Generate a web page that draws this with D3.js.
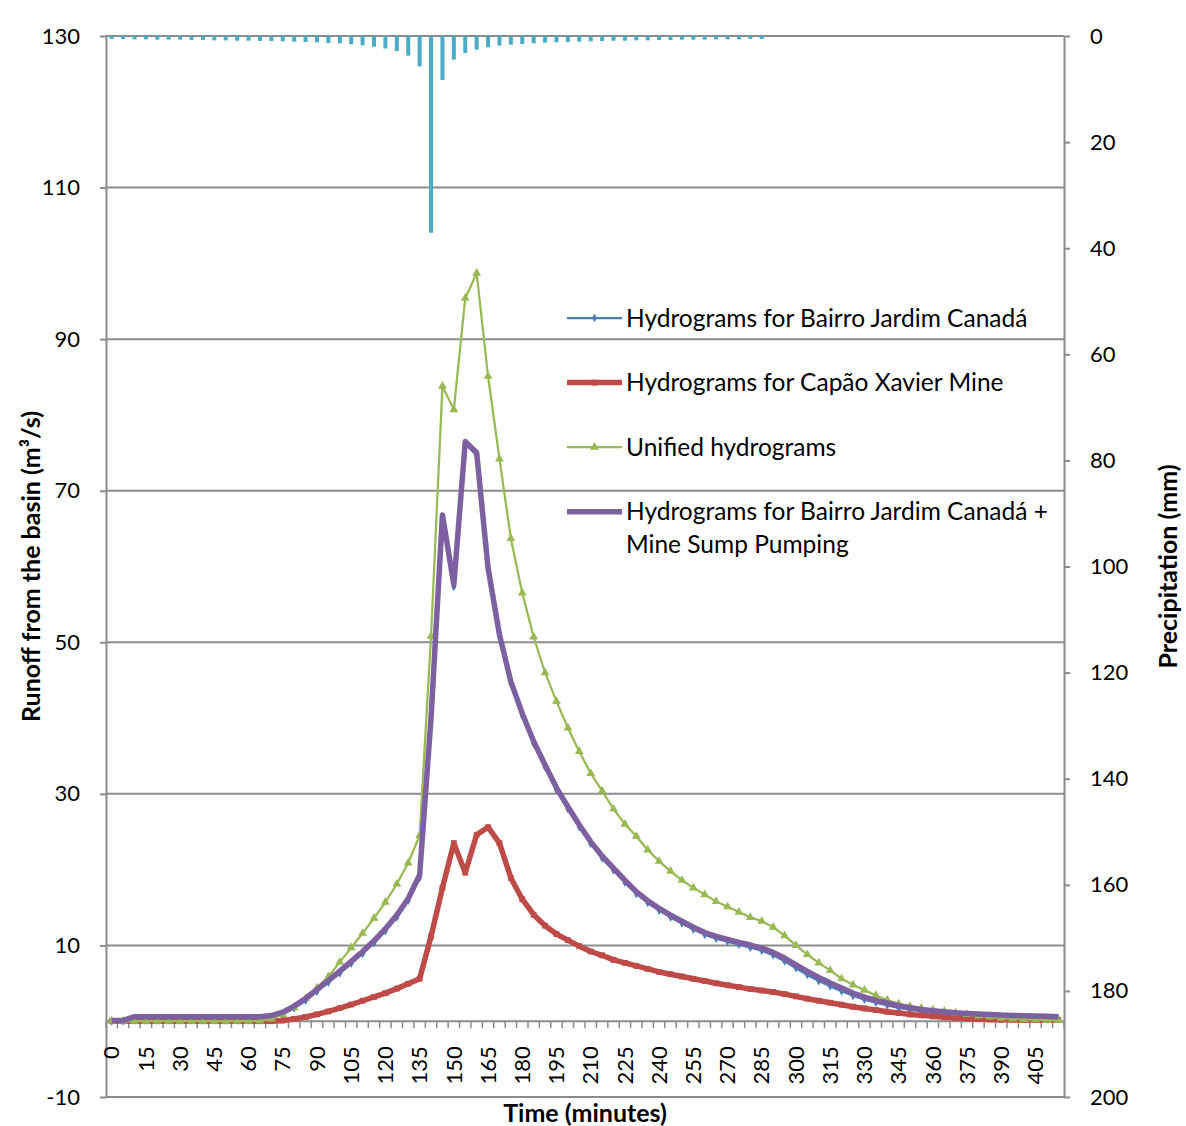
<!doctype html>
<html lang="en">
<head>
<meta charset="utf-8">
<title>Hydrograms - Bairro Jardim Canadá and Capão Xavier Mine</title>
<script src="https://cdn.jsdelivr.net/npm/d3@7"></script>
<style>
  body { margin: 0; background: #fff; }
  text { font-family: Lato, "Open Sans", sans-serif; fill: #000; }
</style>
</head>
<body>
<script>
// time categories (minutes)
var minutes = [0,5,10,15,20,25,30,35,40,45,50,55,60,65,70,75,80,85,90,95,
               100,105,110,115,120,125,130,135,140,145,150,155,160,165,170,175,180,185,190,195,
               200,205,210,215,220,225,230,235,240,245,250,255,260,265,270,275,280,285,290,295,
               300,305,310,315,320,325,330,335,340,345,350,355,360,365,370,375,380,385,390,395,
               400,405,410,415];

// precipitation per 5 min (mm), 0 to 285 min
var precipitation = [0.57,0.57,0.63,0.63,0.69,0.69,0.69,0.75,0.75,0.82,0.82,0.88,0.88,0.94,0.94,1.0,
                     1.07,1.13,1.19,1.32,1.38,1.57,1.76,2.01,2.36,2.83,3.71,5.72,37.1,8.29,4.46,3.2,
                     2.58,2.14,1.82,1.63,1.51,1.38,1.26,1.19,1.13,1.07,1.0,0.94,0.88,0.88,0.82,0.82,
                     0.75,0.75,0.69,0.69,0.69,0.63,0.63,0.63,0.57,0.57];

// runoff (m3/s)
var bairro = [0,0,0.35,0.35,0.35,0.35,0.35,0.35,0.35,0.35,0.35,0.35,0.35,0.35,0.5,0.9,1.7,2.7,3.9,5.1,
              6.3,7.6,8.9,10.3,11.9,13.7,15.9,18.9,39.7,66.5,57.3,76.2,74.7,59.5,50.7,44.5,40.3,36.6,33.5,30.5,
              28.0,25.6,23.4,21.5,19.9,18.3,16.8,15.6,14.6,13.7,12.9,12.1,11.4,10.9,10.5,10.1,9.7,9.3,8.7,7.9,
              7.0,6.1,5.3,4.6,3.95,3.35,2.85,2.45,2.1,1.75,1.5,1.3,1.1,0.95,0.85,0.75,0.65,0.6,0.5,0.45,
              0.42,0.38,0.34,0.3];

var capao = [0,0,0,0,0,0,0,0,0,0,0,0,0,0,0,0.1,0.3,0.55,0.9,1.3,
             1.74,2.2,2.7,3.2,3.7,4.3,4.95,5.6,11.2,17.6,23.5,19.6,24.6,25.6,23.5,18.9,16.1,14.05,12.6,11.5,
             10.7,9.9,9.2,8.7,8.1,7.7,7.3,6.9,6.5,6.2,5.9,5.6,5.3,5.0,4.75,4.5,4.25,4.05,3.85,3.58,
             3.28,2.97,2.7,2.44,2.18,1.91,1.69,1.47,1.25,1.08,0.9,0.77,0.64,0.51,0.42,0.33,0.29,0.24,0.2,0.2,
             0.15,0.15,0.15,0.15];

var unified = [0,0,0,0,0,0,0,0,0,0,0,0,0,0.05,0.3,0.9,1.8,3.0,4.4,5.9,
               7.8,9.7,11.6,13.6,15.7,18.1,20.9,24.5,50.8,83.8,80.7,95.4,98.7,85.1,74.2,63.7,56.5,50.7,46.0,42.2,
               38.7,35.6,32.7,30.4,28.0,26.0,24.4,22.6,21.1,19.8,18.6,17.6,16.7,15.8,15.1,14.4,13.7,13.2,12.4,11.3,
               10.0,8.8,7.7,6.7,5.6,4.8,4.1,3.4,2.8,2.3,1.96,1.74,1.5,1.3,1.1,0.9,0.7,0.55,0.4,0.3,
               0.25,0.2,0.15,0.1];

var bairroSump = [0.1,0.1,0.6,0.6,0.6,0.6,0.6,0.6,0.6,0.6,0.6,0.6,0.6,0.6,0.75,1.2,2.0,3.0,4.2,5.4,
                  6.6,7.9,9.2,10.6,12.2,14.0,16.2,19.3,40.0,66.8,57.6,76.5,75.0,59.8,51.0,44.8,40.6,36.9,33.8,30.8,
                  28.3,25.9,23.7,21.8,20.2,18.6,17.1,15.9,14.9,14.0,13.2,12.4,11.7,11.2,10.8,10.4,10.05,9.65,9.08,8.33,
                  7.45,6.57,5.78,5.04,4.38,3.72,3.19,2.75,2.4,2.04,1.78,1.56,1.39,1.25,1.12,1.03,0.95,0.9,0.81,0.77,
                  0.73,0.68,0.64,0.59];

var leftTicks = [-10,10,30,50,70,90,110,130];
var rightTicks = [0,20,40,60,80,100,120,140,160,180,200];

var seriesNames = ["Hydrograms for Bairro Jardim Canadá",
                   "Hydrograms for Capão Xavier Mine",
                   "Unified hydrograms",
                   "Hydrograms for Bairro Jardim Canadá +|Mine Sump Pumping"];

var width = 1186, height = 1126;
var plot = {left: 106, right: 1064, top: 36, bottom: 1097};
var grey = "#8c8c8c";

var svg = d3.select("body").append("svg")
    .attr("width", width).attr("height", height);

var x = d3.scaleBand().domain(minutes).range([plot.left, plot.right]);
var yL = d3.scaleLinear().domain([-10, 130]).range([plot.bottom, plot.top]);
var yR = d3.scaleLinear().domain([0, 200]).range([plot.top, plot.bottom]);
function cx(m) { return x(m) + x.bandwidth() / 2; }

// gridlines
svg.append("g").selectAll("line").data(leftTicks).enter().append("line")
    .attr("x1", plot.left).attr("x2", plot.right)
    .attr("y1", function(d){ return yL(d); }).attr("y2", function(d){ return yL(d); })
    .attr("stroke", grey).attr("stroke-width", 2);

// precipitation bars hanging from the top
svg.append("g").selectAll("rect").data(precipitation).enter().append("rect")
    .attr("x", function(d, i){ return cx(minutes[i]) - 2; })
    .attr("y", yR(0))
    .attr("width", 4)
    .attr("height", function(d){ return yR(d) - yR(0); })
    .attr("fill", "#4bacc6");

// left axis
var axL = svg.append("g").attr("transform", "translate(" + plot.left + ",0)")
    .call(d3.axisLeft(yL).tickValues(leftTicks).tickFormat(String)
        .tickSize(6).tickSizeOuter(0).tickPadding(20));
// right axis
var axR = svg.append("g").attr("transform", "translate(" + plot.right + ",0)")
    .call(d3.axisRight(yR).tickValues(rightTicks).tickFormat(String)
        .tickSize(6).tickSizeOuter(0).tickPadding(20));
[axL, axR].forEach(function(ax){
    ax.select(".domain").attr("stroke", grey).attr("stroke-width", 2);
    ax.selectAll(".tick line").attr("stroke", grey).attr("stroke-width", 2);
    ax.selectAll(".tick text").style("font-size", "22px").attr("font-family", null);
});

// category axis at zero
var axX = svg.append("g").attr("transform", "translate(0," + yL(0) + ")");
axX.append("line").attr("x1", plot.left).attr("x2", plot.right)
    .attr("stroke", grey).attr("stroke-width", 2);
axX.selectAll("line.tk").data(minutes.concat([null])).enter().append("line")
    .attr("class", "tk")
    .attr("x1", function(d){ return d === null ? plot.right : x(d); })
    .attr("x2", function(d){ return d === null ? plot.right : x(d); })
    .attr("y1", 0).attr("y2", 7)
    .attr("stroke", grey).attr("stroke-width", 1.5);
axX.selectAll("text").data(minutes.filter(function(d, i){ return i % 3 === 0; })).enter().append("text")
    .attr("transform", function(d){ return "translate(" + cx(d) + ",25) rotate(-90)"; })
    .attr("text-anchor", "end").attr("dy", "0.35em")
    .style("font-size", "22px")
    .text(function(d){ return d; });

// series
var series = [
    {values: bairro, color: "#4a7ebb", width: 2.25, symbol: d3.symbolDiamond, size: 22},
    {values: capao, color: "#be4b48", width: 5.5, symbol: d3.symbolSquare, size: 34},
    {values: unified, color: "#98b954", width: 2.25, symbol: d3.symbolTriangle, size: 34},
    {values: bairroSump, color: "#7d60a0", width: 5.5, symbol: null, size: 0}
];
var line = d3.line()
    .x(function(d, i){ return cx(minutes[i]); })
    .y(function(d){ return yL(d); });

series.forEach(function(s){
    var g = svg.append("g");
    g.append("path").attr("d", line(s.values))
        .attr("fill", "none").attr("stroke", s.color).attr("stroke-width", s.width)
        .attr("stroke-linejoin", "round");
    if (s.symbol) {
        g.selectAll("path.mk").data(s.values).enter().append("path")
            .attr("class", "mk")
            .attr("transform", function(d, i){ return "translate(" + cx(minutes[i]) + "," + yL(d) + ")"; })
            .attr("d", d3.symbol().type(s.symbol).size(s.size))
            .attr("fill", s.color);
    }
});

// legend
var legend = svg.append("g").attr("transform", "translate(567,318)");
series.forEach(function(s, i){
    var g = legend.append("g").attr("transform", "translate(0," + (i * 64.6) + ")");
    g.append("line").attr("x1", 0).attr("x2", 55)
        .attr("stroke", s.color).attr("stroke-width", s.width);
    if (s.symbol) {
        g.append("path").attr("transform", "translate(27.5,0)")
            .attr("d", d3.symbol().type(s.symbol).size(s.size)).attr("fill", s.color);
    }
    var t = g.append("text").style("font-size", "24.5px");
    seriesNames[i].split("|").forEach(function(part, k){
        t.append("tspan").attr("x", 59).attr("y", k * 33).attr("dy", "0.35em").text(part);
    });
});

// axis titles
svg.append("text")
    .attr("transform", "translate(40," + ((plot.top + plot.bottom) / 2) + ") rotate(-90)")
    .attr("text-anchor", "middle").style("font-size", "25px").style("font-weight", "bold")
    .text("Runoff from the basin (m³/s)");
svg.append("text")
    .attr("transform", "translate(1177," + ((plot.top + plot.bottom) / 2) + ") rotate(-90)")
    .attr("text-anchor", "middle").style("font-size", "25px").style("font-weight", "bold")
    .text("Precipitation (mm)");
svg.append("text")
    .attr("x", (plot.left + plot.right) / 2).attr("y", 1122)
    .attr("text-anchor", "middle").style("font-size", "25px").style("font-weight", "bold")
    .text("Time (minutes)");
</script>
</body>
</html>
